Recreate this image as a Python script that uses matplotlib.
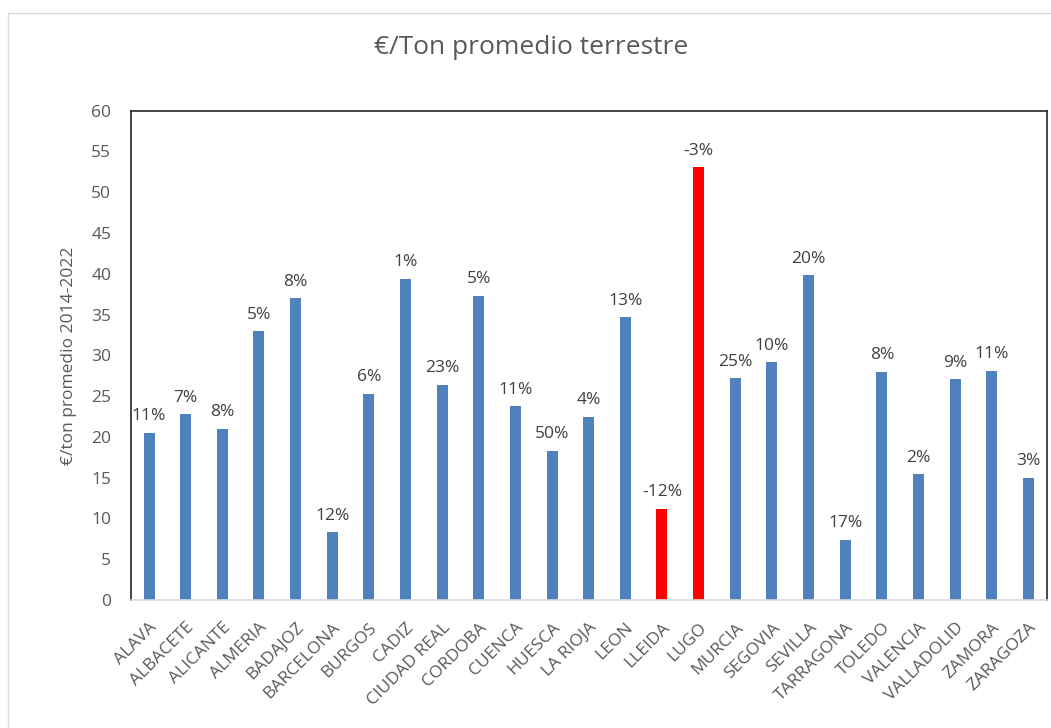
import matplotlib
matplotlib.use('Agg')
import matplotlib.pyplot as plt
from matplotlib.patches import Rectangle

plt.rcParams['font.family'] = ['Open Sans', 'DejaVu Sans']

provincias = ['ALAVA', 'ALBACETE', 'ALICANTE', 'ALMERIA', 'BADAJOZ', 'BARCELONA',
              'BURGOS', 'CADIZ', 'CIUDAD REAL', 'CORDOBA', 'CUENCA', 'HUESCA',
              'LA RIOJA', 'LEON', 'LLEIDA', 'LUGO', 'MURCIA', 'SEGOVIA', 'SEVILLA',
              'TARRAGONA', 'TOLEDO', 'VALENCIA', 'VALLADOLID', 'ZAMORA', 'ZARAGOZA']
precio = [20.5, 22.8, 21.0, 33.0, 37.0, 8.3, 25.3, 39.4, 26.4, 37.3, 23.8, 18.3,
          22.5, 34.7, 11.2, 53.1, 27.2, 29.2, 39.8, 7.4, 28.0, 15.4, 27.1, 28.1, 15.0]
variacion = ['11%', '7%', '8%', '5%', '8%', '12%', '6%', '1%', '23%', '5%', '11%',
             '50%', '4%', '13%', '-12%', '-3%', '25%', '10%', '20%', '17%', '8%',
             '2%', '9%', '11%', '3%']
destacadas = ['LLEIDA', 'LUGO']

azul = '#4F81BD'
rojo = '#FF0000'
gris = '#595959'

fig = plt.figure(figsize=(10.51, 7.28), dpi=100)
# marco del grafico
fig.patches.append(Rectangle((8 / 1051, -0.1), 1.2, 1 - 13 / 728 + 0.1,
                             transform=fig.transFigure, fill=False,
                             edgecolor='#D9D9D9', linewidth=1.0))

ax = fig.add_axes([0.1244, 0.1758, 0.8715, 0.6722])
x = list(range(len(provincias)))
colores = [rojo if p in destacadas else azul for p in provincias]
barras = ax.bar(x, precio, width=0.30, color=colores, zorder=2)

for b, txt in zip(barras, variacion):
    ax.annotate(txt, (b.get_x() + b.get_width() / 2, b.get_height()),
                xytext=(0, 6), textcoords='offset points',
                ha='center', va='bottom', fontsize=12.5, color='#404040')

ax.set_xlim(-0.5, len(provincias) - 0.5)
ax.set_ylim(0, 60)
ax.set_yticks(range(0, 61, 5))
ax.set_xticks(x)
ax.set_xticklabels(provincias, rotation=45, ha='right', va='top',
                   rotation_mode='anchor', fontsize=12.5, color=gris)
ax.tick_params(axis='x', length=0, pad=14)
ax.tick_params(axis='y', length=0, pad=14, labelsize=12.5, labelcolor=gris)

for s in ['left', 'top', 'right']:
    ax.spines[s].set_color('#262626')
    ax.spines[s].set_linewidth(1.2)
ax.spines['bottom'].set_color('#D9D9D9')
ax.spines['bottom'].set_linewidth(1.2)

ax.set_ylabel('€/ton promedio 2014-2022', fontsize=12.5, color=gris, labelpad=10)
fig.text(0.505, 0.935, '€/Ton promedio terrestre', ha='center', va='center',
         fontsize=19, color=gris)

fig.savefig('out.png', dpi=100)
